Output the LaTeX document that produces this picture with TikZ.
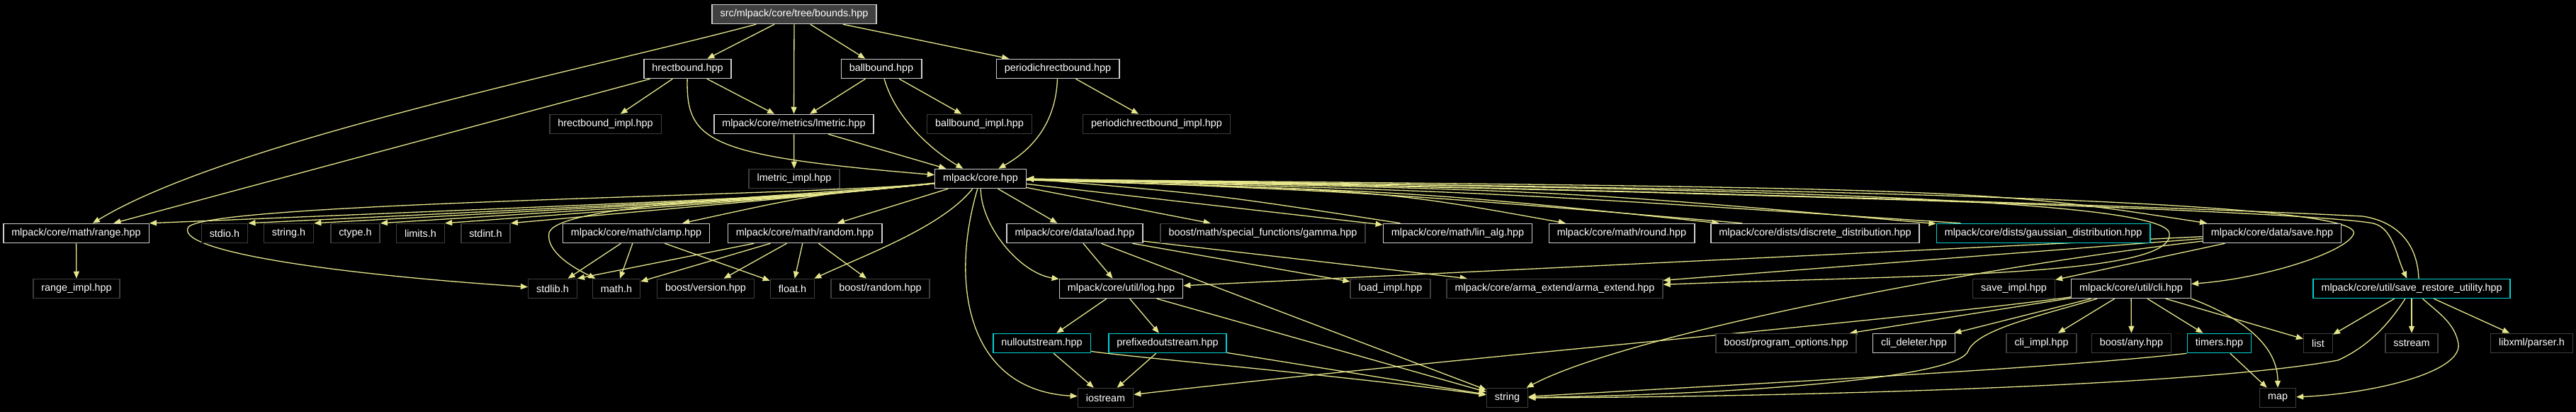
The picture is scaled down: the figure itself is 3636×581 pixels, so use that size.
\documentclass[tikz,border=0pt]{standalone}
\usepackage{fontspec}
\newfontfamily\graphfont{Liberation Sans}
\usetikzlibrary{arrows.meta,backgrounds}

\definecolor{edgeyellow}{RGB}{230,230,140}
\definecolor{docborder}{RGB}{205,205,205}
\definecolor{extborder}{RGB}{62,62,62}
\definecolor{cyanborder}{RGB}{0,210,210}
\definecolor{rootfill}{RGB}{64,64,64}

\tikzset{
  file/.style={draw=docborder, line width=1.5pt, fill=black, text=white,
    font=\graphfont\fontsize{14.4}{16}\selectfont,
    minimum height=27pt, inner xsep=11.5pt, inner ysep=0pt},
  extfile/.style={file, draw=extborder},
  cyanfile/.style={file, draw=cyanborder},
  rootfile/.style={file, fill=rootfill},
  inc/.style={draw=edgeyellow, line width=1.3pt, -{Triangle[length=10pt,width=8pt]}}
}

\begin{document}
\begin{tikzpicture}[x=1pt, y=-1pt]
    \useasboundingbox (0,0) rectangle (3636,581);

    % Root file
    \node [rootfile] (src) at (1121, 20) {src/mlpack/core/tree/bounds.hpp};

    % Bound types
    \node [file] (hrect) at (970.5, 97) {hrectbound.hpp};
    \node [file] (ball) at (1244, 97) {ballbound.hpp};
    \node [file] (periodic) at (1493, 97) {periodichrectbound.hpp};

    \node [extfile] (hrectimpl) at (854.5, 175) {hrectbound\_impl.hpp};
    \node [file] (lmetric) at (1120.5, 175) {mlpack/core/metrics/lmetric.hpp};
    \node [extfile] (ballimpl) at (1382.5, 175) {ballbound\_impl.hpp};
    \node [extfile] (periodicimpl) at (1632.5, 175) {periodichrectbound\_impl.hpp};

    \node [extfile] (lmetricimpl) at (1121, 252) {lmetric\_impl.hpp};
    \node [file] (core) at (1384, 252) {mlpack/core.hpp};

    % Headers pulled in by core.hpp
    \node [file] (range) at (107.5, 329) {mlpack/core/math/range.hpp};
    \node [extfile] (stdio) at (317, 329) {stdio.h};
    \node [extfile] (stringh) at (407.5, 329) {string.h};
    \node [extfile] (ctype) at (501.5, 329) {ctype.h};
    \node [extfile] (limits) at (593.5, 329) {limits.h};
    \node [extfile] (stdint) at (685.5, 329) {stdint.h};
    \node [file] (clamp) at (898, 329) {mlpack/core/math/clamp.hpp};
    \node [file] (random) at (1136, 329) {mlpack/core/math/random.hpp};
    \node [file] (load) at (1517, 329) {mlpack/core/data/load.hpp};
    \node [extfile] (gamma) at (1782.5, 329) {boost/math/special\_functions/gamma.hpp};
    \node [file] (linalg) at (2057.5, 329) {mlpack/core/math/lin\_alg.hpp};
    \node [file] (round) at (2289, 329) {mlpack/core/math/round.hpp};
    \node [file] (discrete) at (2562, 329) {mlpack/core/dists/discrete\_distribution.hpp};
    \node [cyanfile] (gaussian) at (2884, 329) {mlpack/core/dists/gaussian\_distribution.hpp};
    \node [file] (save) at (3207, 329) {mlpack/core/data/save.hpp};

    \node [extfile] (rangeimpl) at (108, 407) {range\_impl.hpp};
    \node [extfile] (stdlib) at (780, 407) {stdlib.h};
    \node [extfile] (mathh) at (870, 407) {math.h};
    \node [extfile] (version) at (996, 407) {boost/version.hpp};
    \node [extfile] (floath) at (1118.5, 407) {float.h};
    \node [extfile] (boostrandom) at (1242.5, 407) {boost/random.hpp};
    \node [file] (log) at (1582.5, 407) {mlpack/core/util/log.hpp};
    \node [extfile] (loadimpl) at (1962.5, 407) {load\_impl.hpp};
    \node [extfile] (arma) at (2194.5, 407) {mlpack/core/arma\_extend/arma\_extend.hpp};
    \node [extfile] (saveimpl) at (2842.5, 407) {save\_impl.hpp};
    \node [file] (cli) at (3008, 407) {mlpack/core/util/cli.hpp};
    \node [cyanfile] (saverestore) at (3404, 407) {mlpack/core/util/save\_restore\_utility.hpp};

    \node [cyanfile] (nullout) at (1470.5, 484) {nulloutstream.hpp};
    \node [cyanfile] (prefixed) at (1648, 484) {prefixedoutstream.hpp};
    \node [extfile] (progopt) at (2521, 484) {boost/program\_options.hpp};
    \node [file] (clideleter) at (2701.5, 484) {cli\_deleter.hpp};
    \node [extfile] (cliimpl) at (2881.5, 484) {cli\_impl.hpp};
    \node [extfile] (any) at (3008.5, 484) {boost/any.hpp};
    \node [cyanfile] (timers) at (3132.5, 484) {timers.hpp};
    \node [extfile] (list) at (3272, 484) {list};
    \node [extfile] (sstream) at (3404, 484) {sstream};
    \node [extfile] (libxml) at (3573.5, 484) {libxml/parser.h};

    \node [extfile] (iostream) at (1560.5, 561) {iostream};
    \node [extfile] (stringn) at (2127.5, 561) {string};
    \node [extfile] (map) at (3215, 561) {map};

    \begin{scope}[on background layer]
        \fill [black] (0,0) rectangle (3636,581);
    \end{scope}

    \begin{scope}[on background layer]
        % Bounds
        \draw [inc] (src) -- (hrect);
        \draw [inc] (src) -- (lmetric);
        \draw [inc] (src) -- (ball);
        \draw [inc] (src) -- (periodic);
        \draw [inc] (src) .. controls (820,100) and (320,200) .. (range);
        \draw [inc] (hrect) -- (range);
        \draw [inc] (hrect) -- (hrectimpl);
        \draw [inc] (hrect) -- (lmetric);
        \draw [inc] (hrect) .. controls (968,200) and (1000,220) .. (core);
        \draw [inc] (ball) -- (lmetric);
        \draw [inc] (ball) -- (ballimpl);
        \draw [inc] (ball) .. controls (1265,170) and (1320,215) .. (core);
        \draw [inc] (periodic) -- (periodicimpl);
        \draw [inc] (periodic) .. controls (1490,180) and (1450,215) .. (core);
        \draw [inc] (lmetric) -- (lmetricimpl);
        \draw [inc] (lmetric) -- (core);
        \draw [inc] (range) -- (rangeimpl);

        % core.hpp, to the left
        \draw [inc] (core) .. controls (1150,276) .. (range.north east);
        \draw [inc] (core) .. controls (1150,276) .. (stdio.north east);
        \draw [inc] (core) .. controls (1150,276) .. (stringh.north east);
        \draw [inc] (core) .. controls (1150,276) .. (ctype.north east);
        \draw [inc] (core) .. controls (1150,276) .. (limits.north east);
        \draw [inc] (core) .. controls (1150,276) .. (stdint.north east);
        \draw [inc] (core) .. controls (1150,274) .. (clamp);
        \draw [inc] (core) -- (random);
        \draw [inc] (core) .. controls (1150,276) and (300,285) .. (266,320)
            .. controls (245,352) and (450,385) .. (stdlib);
        \draw [inc] (core) .. controls (1150,276) and (790,285) .. (775,328)
            .. controls (770,355) and (810,378) .. (mathh);
        \draw [inc] (core) .. controls (1330,320) and (1220,360) .. (floath);
        \draw [inc] (core) .. controls (1385,320) and (1440,385) .. (log);
        \draw [inc] (core) .. controls (1340,400) and (1365,550) .. (iostream);

        % core.hpp, to the right
        \draw [inc] (core) -- (load);
        \draw [inc] (core) -- (gamma);
        \draw [inc] (core) -- (linalg);
        \draw [inc] (core) .. controls (1950,268) .. (round);
        \draw [inc] (core) .. controls (2000,270) .. (discrete);
        \draw [inc] (core) .. controls (2200,268) .. (gaussian);
        \draw [inc] (core) .. controls (2800,266) .. (save);
        \draw [inc] (core) .. controls (2300,264) and (3065,275) .. (3062,330)
            .. controls (3068,390) and (2700,388) .. (arma);
        \draw [inc] (core) .. controls (2300,264) and (3345,275) .. (3322,330)
            .. controls (3312,355) and (3200,392) .. (cli);
        \draw [inc] (core) .. controls (2300,266) and (3250,296) .. (3350,315)
            .. controls (3378,322) and (3382,360) .. (saverestore);

        % Back to core.hpp
        \draw [inc] ([xshift=25pt]linalg.north west) .. controls (1712,274) .. (core.east);
        \draw [inc] ([xshift=45pt]discrete.north west) .. controls (1954,272) .. (core.east);
        \draw [inc] ([xshift=35pt]gaussian.north west) .. controls (2108,271) .. (core.east);
        \draw [inc] ([xshift=10pt]saverestore.north) .. controls (3412,340) and (3380,312) .. (3335,305)
            .. controls (3000,288) and (2100,262) .. (core.east);

        % Math
        \draw [inc] (clamp) -- (stdlib);
        \draw [inc] (clamp) -- (mathh);
        \draw [inc] (clamp) -- (floath);
        \draw [inc] (random) -- (stdlib.north east);
        \draw [inc] (random) -- (mathh);
        \draw [inc] (random) -- (version);
        \draw [inc] (random) -- (floath);
        \draw [inc] (random) -- (boostrandom);

        % Data
        \draw [inc] (load) -- (log);
        \draw [inc] (load) -- (loadimpl);
        \draw [inc] (load) -- (arma);
        \draw [inc] (load) -- (stringn);
        \draw [inc] (save) -- (log);
        \draw [inc] (save) -- (arma);
        \draw [inc] (save) -- (saveimpl);
        \draw [inc] (save) .. controls (2800,375) and (2300,470) .. (stringn);

        % Log
        \draw [inc] (log) -- (nullout);
        \draw [inc] (log) -- (prefixed);
        \draw [inc] (log) -- (stringn);
        \draw [inc] (nullout) -- (iostream);
        \draw [inc] (nullout) .. controls (1580,502) and (1900,530) .. (stringn);
        \draw [inc] (prefixed) -- (iostream);
        \draw [inc] (prefixed) -- (stringn);

        % CLI
        \draw [inc] (cli) -- (progopt);
        \draw [inc] (cli) -- (clideleter);
        \draw [inc] (cli) -- (cliimpl);
        \draw [inc] (cli) -- (any);
        \draw [inc] (cli) -- (timers);
        \draw [inc] (cli) -- (list);
        \draw [inc] (cli.south east) .. controls (3170,450) and (3215,490) .. (map);
        \draw [inc] (cli) .. controls (2880,445) and (2790,465) .. (2778,495)
            .. controls (2765,530) and (2500,555) .. (stringn);
        \draw [inc] (cli) .. controls (2700,450) and (2000,510) .. (iostream);
        \draw [inc] (timers) -- (map);
        \draw [inc] (timers.south west) .. controls (2900,520) and (2400,545) .. (stringn);

        % Save / restore
        \draw [inc] (saverestore) -- (list);
        \draw [inc] (saverestore) -- (sstream);
        \draw [inc] (saverestore) -- (libxml);
        \draw [inc] (saverestore) .. controls (3440,440) and (3465,455) .. (3470,485)
            .. controls (3475,525) and (3350,555) .. (map);
        \draw [inc] (saverestore) .. controls (3370,460) and (3340,490) .. (3300,508)
            .. controls (3100,545) and (2500,560) .. (stringn);
    \end{scope}
\end{tikzpicture}
\end{document}
